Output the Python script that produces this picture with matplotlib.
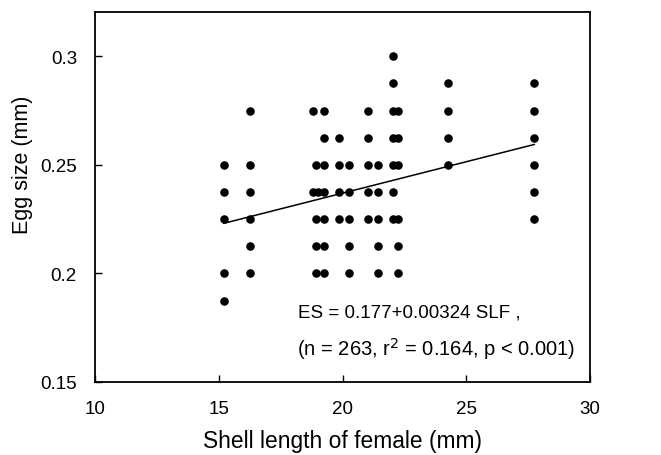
import matplotlib
matplotlib.use("Agg")
import matplotlib.pyplot as plt

plt.rcParams['font.family'] = ['Liberation Sans', 'DejaVu Sans']

# Data: shell length columns (as drawn) and egg sizes in each column
col_x = [15.21, 16.26, 18.80, 18.93, 19.02, 19.25, 19.86, 20.26,
         21.04, 21.45, 22.05, 22.25, 24.27, 27.75]
col_y = [
    [0.25, 0.2375, 0.225, 0.2, 0.1875],
    [0.275, 0.25, 0.2375, 0.225, 0.2125, 0.2],
    [0.275, 0.2375],
    [0.25, 0.225, 0.2125, 0.2],
    [0.2375],
    [0.275, 0.2625, 0.25, 0.2375, 0.225, 0.2125, 0.2],
    [0.2625, 0.25, 0.2375, 0.225],
    [0.25, 0.2375, 0.225, 0.2125, 0.2],
    [0.275, 0.2625, 0.25, 0.2375, 0.225],
    [0.25, 0.2375, 0.225, 0.2125, 0.2],
    [0.3, 0.2875, 0.275, 0.2625, 0.25, 0.2375, 0.225],
    [0.275, 0.2625, 0.25, 0.225, 0.2125, 0.2],
    [0.2875, 0.275, 0.2625, 0.25],
    [0.2875, 0.275, 0.2625, 0.25, 0.2375, 0.225],
]
fit_x = [15.21, 27.75]
fit_y = [0.2231, 0.2594]

x_ticks = [10, 15, 20, 25, 30]
x_ticklabels = ['10', '15', '20', '25', '30']
y_ticks = [0.15, 0.2, 0.25, 0.3]
y_ticklabels = ['0.15', '0.2', '0.25', '0.3']

xs, ys = [], []
for cx, cys in zip(col_x, col_y):
    for v in cys:
        xs.append(cx)
        ys.append(v)

fig = plt.figure(figsize=(6.61, 4.56), dpi=100)
ax = fig.add_axes([95/661, 1 - 383/456, 495/661, 370/456])

ax.scatter(xs, ys, s=38, color='black', zorder=3, linewidths=0)
ax.plot(fit_x, fit_y, color='black', lw=1.1, zorder=2)

ax.set_xlim(10, 30)
ax.set_ylim(0.15, 0.3204)
ax.set_xticks(x_ticks)
ax.set_xticklabels(x_ticklabels)
ax.set_yticks(y_ticks)
ax.set_yticklabels(y_ticklabels)
ax.tick_params(direction='in', length=5, width=1, labelsize=13.5, pad=13,
               top=False, right=False)
ax.tick_params(axis='y', pad=13)
for s in ax.spines.values():
    s.set_linewidth(1.3)

ax.set_xlabel('Shell length of female (mm)', fontsize=16.4, va='center')
ax.xaxis.set_label_coords(0.5, -0.157)
ax.set_ylabel('Egg size (mm)', fontsize=15.5, va='center')
ax.yaxis.set_label_coords(-0.147, 0.59)

ax.text(18.2, 0.1824, 'ES = 0.177+0.00324 SLF ,', fontsize=13.5,
        ha='left', va='center')
ax.text(18.16, 0.1657, '(n = 263, r$^2$ = 0.164, p < 0.001)', fontsize=14.5,
        ha='left', va='center')

fig.savefig('out.png', dpi=100)
